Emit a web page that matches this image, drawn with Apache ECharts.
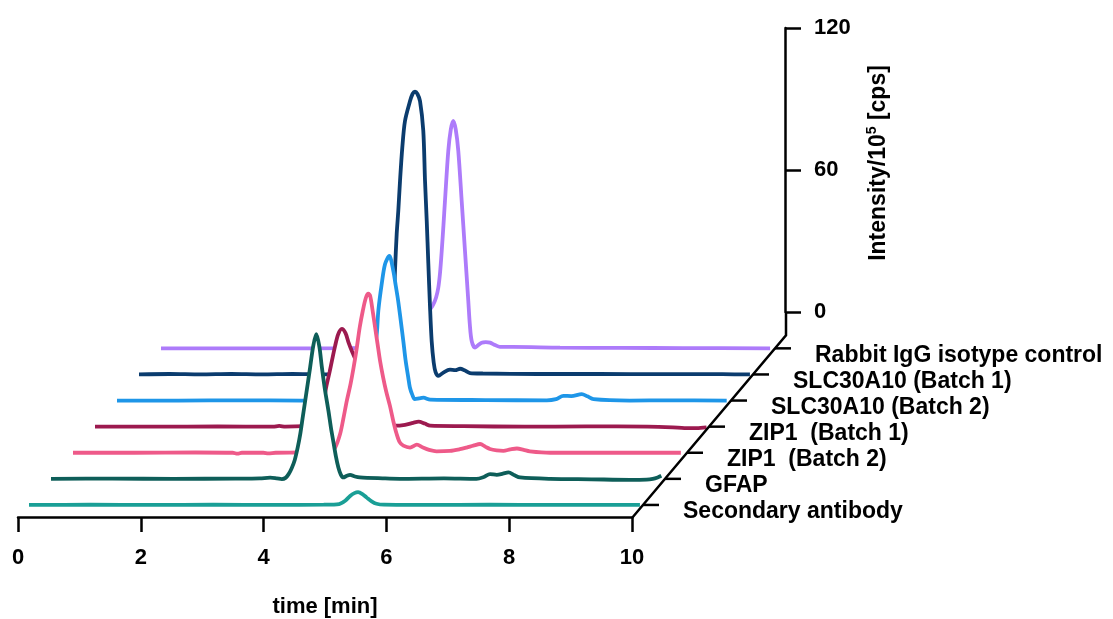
<!DOCTYPE html>
<html>
<head>
<meta charset="utf-8">
<script src="https://cdn.jsdelivr.net/npm/echarts@6/dist/echarts.min.js"></script>
<style>
html, body { margin: 0; padding: 0; background: #ffffff; }
#chart { width: 1113px; height: 619px; }
</style>
</head>
<body>
<div id="chart"></div>
<script>
// Chromatogram traces, [time (min), intensity (1e5 cps)], front to back
const secondaryAntibody = [[0,0],[1,0.1],[2,0],[3,0.1],[4,0],[4.8,0.1],[5.05,0.4],[5.15,1.8],[5.23,3.8],[5.3,5.0],[5.36,5.4],[5.43,4.6],[5.5,3.1],[5.58,1.5],[5.66,0.5],[5.78,0.1],[6.5,0],[7.5,0.1],[8.5,0],[9.95,0]];
const gfap = [[0,0],[1,0.1],[2,0],[3,0.1],[3.4,0.2],[3.57,0.5],[3.68,0.2],[3.76,-0.1],[3.82,0.4],[3.87,2],[3.92,4.5],[3.97,8],[4.02,13.5],[4.06,19],[4.1,26],[4.14,33],[4.18,40],[4.22,47],[4.27,56],[4.32,61.1],[4.37,56],[4.41,47.5],[4.46,38],[4.52,28.5],[4.56,21.5],[4.6,15.5],[4.64,9.5],[4.68,4.8],[4.72,1.8],[4.76,0.6],[4.82,1.3],[4.87,1.7],[4.95,1.0],[5.03,0.6],[5.4,0.2],[5.68,0],[6.4,0.2],[6.93,0],[7.05,0.8],[7.15,2],[7.26,1.7],[7.36,2.2],[7.45,2.7],[7.55,1.5],[7.64,0.6],[8.13,0],[8.8,-0.2],[9.43,-0.4],[9.7,-0.3],[9.8,0],[9.88,0.6],[9.94,1.3]];
const zip1Batch2 = [[0,0],[1,0],[2,0.1],[2.6,0],[2.68,-0.4],[2.75,0],[3.1,0],[3.18,-0.3],[3.3,0],[3.65,0.1],[3.9,0.2],[4.1,0.5],[4.2,1.1],[4.27,2.2],[4.35,7.9],[4.4,14],[4.46,22],[4.52,29],[4.57,36],[4.62,44],[4.67,53],[4.72,60],[4.77,65.5],[4.81,67.2],[4.84,66.3],[4.88,60],[4.92,53],[4.96,46],[5.0,39],[5.05,32],[5.1,26],[5.16,20],[5.22,13],[5.27,8],[5.32,4.5],[5.38,3.0],[5.49,2.2],[5.6,3.4],[5.7,2.2],[5.8,1.2],[5.92,0.6],[6.14,0.8],[6.3,1.5],[6.41,2.2],[6.52,3.0],[6.63,3.7],[6.72,2.5],[6.79,1.6],[6.9,1.0],[7.01,0.8],[7.12,1.4],[7.23,1.8],[7.34,1.2],[7.44,0.6],[7.77,0],[8.5,0],[9.5,0],[9.9,0]];
const zip1Batch1 = [[0,0],[1,0],[2,0.1],[2.9,0],[3.0,0.3],[3.1,0],[3.4,0.2],[3.5,0.6],[3.58,1.5],[3.64,3.5],[3.69,7],[3.73,11.5],[3.77,17.3],[3.82,23],[3.86,28],[3.91,34],[3.96,39],[4.02,41.3],[4.08,39.5],[4.13,35.5],[4.19,31.5],[4.25,28],[4.32,23],[4.4,16],[4.5,9],[4.62,4],[4.75,1.5],[4.89,0.4],[5.05,0.8],[5.18,1.6],[5.27,2.1],[5.37,1.3],[5.46,0.4],[6,0.2],[7,0],[8,0.1],[9.0,0],[9.41,-0.3],[9.6,-0.6],[9.8,-0.6],[9.96,-0.3]];
const slc30a10Batch2 = [[0,0],[1,0],[2,0.1],[3,0],[3.5,0.1],[3.8,0.5],[3.95,2],[4.05,7],[4.12,13],[4.18,20],[4.23,28],[4.256,37.9],[4.31,49],[4.365,57.6],[4.435,61.1],[4.5,54.8],[4.54,48.5],[4.58,42],[4.62,34],[4.663,25.2],[4.7,17],[4.744,9.7],[4.77,5.5],[4.81,2.4],[4.85,0.6],[4.92,0.9],[4.99,1.2],[5.1,0.4],[6,0.2],[7.0,0.1],[7.15,0.6],[7.27,2.0],[7.4,1.9],[7.57,2.7],[7.66,1.8],[7.76,0.6],[8.35,0],[9,0.1],[9.93,0]];
const slc30a10Batch1 = [[0,0],[0.5,0.2],[1,0],[1.5,0.2],[2,0],[2.5,0.2],[3,0],[3.5,0.2],[3.8,0.3],[3.95,1],[4.05,5],[4.11,15],[4.15,30],[4.169,43.7],[4.197,59.4],[4.223,69.1],[4.251,81.7],[4.288,95.8],[4.332,107.1],[4.414,115.5],[4.455,118.5],[4.495,119.5],[4.535,118.5],[4.577,115.5],[4.63,103],[4.658,82],[4.686,65],[4.712,47],[4.739,29],[4.767,14],[4.8,5],[4.83,1],[4.875,-0.6],[4.956,0.8],[5.065,2],[5.15,1.8],[5.23,2.4],[5.3,1.8],[5.39,0.6],[5.6,0.4],[6.5,0.2],[7.5,0.2],[8.5,0.1],[9.5,0.1],[9.95,0]];
const rabbitIgG = [[0,0],[1,0],[2,0],[3,0.1],[3.5,0.3],[3.8,1],[4.0,2.5],[4.15,6],[4.25,10],[4.35,15.1],[4.435,18.6],[4.48,21.5],[4.516,25.6],[4.545,32],[4.572,41.1],[4.6,52],[4.625,62.3],[4.679,83.4],[4.72,92.5],[4.76,96.1],[4.8,92.5],[4.842,83.4],[4.897,62.3],[4.951,41.1],[5.005,20],[5.03,10],[5.06,3.1],[5.114,0.3],[5.16,1.2],[5.223,2.4],[5.29,2.6],[5.358,2.4],[5.44,1.4],[5.52,0.6],[5.73,0.6],[6.5,0.3],[7.5,0.2],[8.5,0.1],[9.92,0]];

const traceNames = ['Secondary antibody', 'GFAP', 'ZIP1  (Batch 2)', 'ZIP1  (Batch 1)', 'SLC30A10 (Batch 2)', 'SLC30A10 (Batch 1)', 'Rabbit IgG isotype control'];
const traceData = [secondaryAntibody, gfap, zip1Batch2, zip1Batch1, slc30a10Batch2, slc30a10Batch1, rabbitIgG];
const traceColors = ['#1a9f96', '#0e5e59', '#ee5a89', '#9c1a4f', '#1e96e8', '#0b3c6e', '#ad7bfa'];

const timeTicks = [0, 2, 4, 6, 8, 10];
const intensityTicks = [0, 60, 120];

// Layout of the pseudo-3D waterfall
const FONT = 'Liberation Sans';
const AX_LEFT = 18, AX_RIGHT = 632, AX_Y = 518;   // front time axis
const STEP_X = 22, STEP_Y = 26.1;                  // depth offset between traces
const PLOT_W = AX_RIGHT - AX_LEFT;
const PLOT_H = 284;                                // 0..120 intensity units
const Y_MAX = 120;
const N = traceData.length;
const backX = AX_RIGHT + STEP_X * N;
const backY = AX_Y - STEP_Y * N;
const INT_TOP = 28;                                 // top of intensity axis
const DEPTH_TICK = 16;

const textBase = { fontFamily: FONT, fontWeight: 'bold', fontSize: 22, color: '#000' };

const grids = [], xAxes = [], yAxes = [], series = [];
const depthAxis = [];

// grid 0: visible time axis at the front
grids.push({ left: AX_LEFT, top: AX_Y - PLOT_H, width: PLOT_W, height: PLOT_H });
xAxes.push({
  gridIndex: 0, type: 'value', min: 0, max: 10, interval: 2,
  axisLine: { lineStyle: { color: '#000', width: 2.5 } },
  axisTick: { length: 15, lineStyle: { color: '#000', width: 2.5 } },
  axisLabel: Object.assign({ margin: 30, formatter: v => timeTicks.includes(v) ? String(v) : '' }, textBase),
  splitLine: { show: false },
  name: 'time [min]', nameLocation: 'middle', nameGap: 79,
  nameTextStyle: Object.assign({}, textBase)
});
yAxes.push({ gridIndex: 0, type: 'value', min: 0, max: Y_MAX, show: false });

// one grid per trace, stepped back along the depth axis
for (let i = 0; i < N; i++) {
  const left = AX_LEFT + STEP_X * (i + 0.5);
  const base = AX_Y - STEP_Y * (i + 0.5);
  const g = i + 1;
  grids.push({ left: left, top: base - PLOT_H, width: PLOT_W, height: PLOT_H });
  xAxes.push({ gridIndex: g, type: 'value', min: 0, max: 10, show: false });
  yAxes.push({
    gridIndex: g, type: 'value', min: 0, max: Y_MAX, position: 'right',
    axisLine: { show: false },
    axisTick: { show: false },
    axisLabel: {
      customValues: [0], margin: 40,
      formatter: () => '{n|' + traceNames[i] + '}',
      rich: { n: Object.assign({}, textBase, { fontSize: 23, padding: [14, 0, 0, 0] }) }
    },
    splitLine: { show: false }
  });
  // tick on the depth axis where this trace's plane meets it
  const tx = left + PLOT_W;
  depthAxis.push({
    type: 'line', z: 100, silent: true,
    shape: { x1: tx, y1: base, x2: tx + DEPTH_TICK, y2: base },
    style: { stroke: '#000', lineWidth: 2.5 }
  });
}

// back to front: each trace's white mask first, then its line,
// so nearer traces hide whatever lies behind their peaks
let zOrder = 2;
for (let i = N - 1; i >= 0; i--) {
  series.push({
    name: traceNames[i] + ' mask', type: 'line',
    xAxisIndex: i + 1, yAxisIndex: i + 1,
    data: traceData[i],
    symbol: 'none', smooth: 0.3, clip: false, silent: true,
    lineStyle: { width: 0, opacity: 0 },
    areaStyle: { color: '#ffffff', opacity: 1, origin: 'start' },
    z: zOrder++
  });
  series.push({
    name: traceNames[i], type: 'line',
    xAxisIndex: i + 1, yAxisIndex: i + 1,
    data: traceData[i],
    symbol: 'none', smooth: 0.3, clip: false,
    lineStyle: { color: traceColors[i], width: 3.8 },
    z: zOrder++
  });
}

// intensity axis at the back right
const gi = N + 1;
grids.push({ left: backX - 1, top: INT_TOP, width: 1, height: PLOT_H });
xAxes.push({ gridIndex: gi, type: 'value', show: false });
yAxes.push({
  gridIndex: gi, type: 'value', min: 0, max: Y_MAX, interval: 60, position: 'right',
  axisLine: { show: true, lineStyle: { color: '#000', width: 2.5 } },
  axisTick: { length: 16, lineStyle: { color: '#000', width: 2.5 } },
  axisLabel: Object.assign({ margin: 28, formatter: v => intensityTicks.includes(v) ? String(v) : '' }, textBase),
  splitLine: { show: false },
  name: '{a|Intensity/10}{s|5}{a| [cps]}', nameLocation: 'middle', nameRotate: 90, nameGap: 79,
  nameTextStyle: {
    padding: [0, 0, 0, 14],
    rich: {
      a: Object.assign({}, textBase, { fontSize: 23 }),
      s: Object.assign({}, textBase, { fontSize: 14, verticalAlign: 'top', lineHeight: 28 })
    }
  }
});

const zeroY = INT_TOP + PLOT_H;
depthAxis.push({
  type: 'polyline', z: 100, silent: true,
  shape: { points: [[AX_RIGHT, AX_Y], [backX, backY], [backX, zeroY]] },
  style: { stroke: '#000', lineWidth: 2.5, fill: null }
});

const chart = echarts.init(document.getElementById('chart'), null, { renderer: 'canvas' });
chart.setOption({
  animation: false,
  backgroundColor: '#ffffff',
  grid: grids,
  xAxis: xAxes,
  yAxis: yAxes,
  series: series,
  graphic: depthAxis
});
</script>
</body>
</html>
